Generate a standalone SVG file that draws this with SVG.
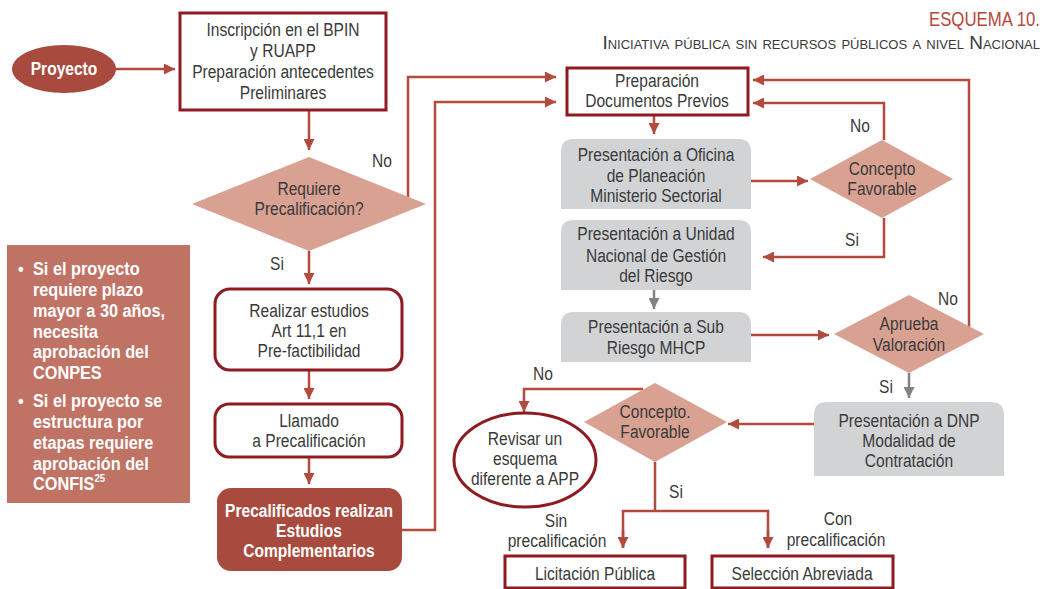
<svg xmlns="http://www.w3.org/2000/svg" width="1045" height="589" viewBox="0 0 1045 589">
  <style>
    text { font-family: "Liberation Sans", Arial, sans-serif; font-size: 19px; fill: #3a3a3a; text-anchor: middle;
           transform-box: fill-box; transform-origin: center; transform: scaleX(0.82); }
    .white { fill: #ffffff; }
    .bold { font-weight: bold; }
    .note { fill: #ffffff; font-weight: bold; font-size: 18.5px; text-anchor: start; transform-origin: left center; transform: scaleX(0.88); }
    .title { fill: #b5483d; font-size: 21px; text-anchor: end; transform-origin: right center; transform: scaleX(0.8); }
    .subtitle { font-size: 19px; text-anchor: end; font-variant: small-caps; fill: #3a3a3a; transform: none; }
    .frame { fill: #ffffff; stroke: #8e1b20; stroke-width: 3; }
    .grey { fill: #d2d3d5; }
    .decision { fill: #d9a192; }
    .dark { fill: #a84b3e; }
    .link { fill: none; stroke: #b24a3e; stroke-width: 2.5; }
    .glink { fill: none; stroke: #808285; stroke-width: 2.5; }
  </style>
  <defs>
    <marker id="arrow" viewBox="0 0 10 10" refX="10" refY="5" markerWidth="11" markerHeight="11" markerUnits="userSpaceOnUse" orient="auto">
      <path d="M0,0 L10,5 L0,10 z" fill="#b24a3e"/>
    </marker>
    <marker id="garrow" viewBox="0 0 10 10" refX="10" refY="5" markerWidth="11" markerHeight="11" markerUnits="userSpaceOnUse" orient="auto">
      <path d="M0,0 L10,5 L0,10 z" fill="#808285"/>
    </marker>
  </defs>

  <!-- heading -->
  <g id="heading">
    <text class="title" x="1040" y="26">ESQUEMA 10.</text>
    <text class="subtitle" x="1040" y="49">Iniciativa pública sin recursos públicos a nivel Nacional</text>
  </g>

  <!-- connectors -->
  <g id="connectors">
    <line class="link" x1="115" y1="69" x2="175" y2="69" marker-end="url(#arrow)"/>
    <line class="link" x1="309" y1="111" x2="309" y2="150" marker-end="url(#arrow)"/>
    <polyline class="link" points="408,197 408,77 556,77" marker-end="url(#arrow)"/>
    <line class="link" x1="309" y1="251" x2="309" y2="284" marker-end="url(#arrow)"/>
    <line class="link" x1="309" y1="371" x2="309" y2="399" marker-end="url(#arrow)"/>
    <line class="link" x1="309" y1="458" x2="309" y2="484" marker-end="url(#arrow)"/>
    <polyline class="link" points="402,530 435,530 435,102 556,102" marker-end="url(#arrow)"/>
    <line class="link" x1="654" y1="116" x2="654" y2="134" marker-end="url(#arrow)"/>
    <line class="link" x1="751" y1="181" x2="808" y2="181" marker-end="url(#arrow)"/>
    <polyline class="link" points="884,140 884,103 753,103" marker-end="url(#arrow)"/>
    <polyline class="link" points="884,218 884,257 763,257" marker-end="url(#arrow)"/>
    <line class="glink" x1="654" y1="290" x2="654" y2="309" marker-end="url(#garrow)"/>
    <line class="link" x1="751" y1="335" x2="829" y2="335" marker-end="url(#arrow)"/>
    <polyline class="link" points="969,327 969,80 753,80" marker-end="url(#arrow)"/>
    <line class="glink" x1="909" y1="373" x2="909" y2="398" marker-end="url(#garrow)"/>
    <line class="link" x1="814" y1="424" x2="728" y2="424" marker-end="url(#arrow)"/>
    <polyline class="link" points="643,389 524,389 524,412" marker-end="url(#arrow)"/>
    <polyline class="link" points="655,462 655,511" />
    <polyline class="link" points="623,548 623,511 768,511 768,548" />
    <line class="link" x1="623" y1="530" x2="623" y2="548" marker-end="url(#arrow)"/>
    <line class="link" x1="768" y1="530" x2="768" y2="548" marker-end="url(#arrow)"/>

    <text x="382" y="167">No</text>
    <text x="277" y="270">Si</text>
    <text x="860" y="132">No</text>
    <text x="852" y="246">Si</text>
    <text x="948" y="305">No</text>
    <text x="886" y="393">Si</text>
    <text x="543" y="380">No</text>
    <text x="676" y="498">Si</text>
    <text x="556" y="527">Sin</text>
    <text x="557" y="547">precalificación</text>
    <text x="838" y="525">Con</text>
    <text x="836" y="546">precalificación</text>
  </g>

  <g id="proyecto">
    <ellipse class="dark" cx="64" cy="69" rx="52" ry="24"/>
    <text class="white bold" x="64" y="75">Proyecto</text>
  </g>

  <g id="inscripcion">
    <rect class="frame" x="180" y="13" width="206" height="97"/>
    <text x="283" y="36">Inscripción en el BPIN</text>
    <text x="283" y="57">y RUAPP</text>
    <text x="283" y="78">Preparación antecedentes</text>
    <text x="283" y="99">Preliminares</text>
  </g>

  <g id="requiere">
    <polygon class="decision" points="192,204 309,157 426,204 309,251"/>
    <text x="309" y="195">Requiere</text>
    <text x="309" y="215">Precalificación?</text>
  </g>

  <g id="nota">
    <rect x="7" y="245" width="183" height="258" fill="#c07365"/>
    <text class="note" x="18" y="275">•</text>
    <text class="note" x="33" y="275">Si el proyecto</text>
    <text class="note" x="33" y="296">requiere plazo</text>
    <text class="note" x="33" y="317">mayor a 30 años,</text>
    <text class="note" x="33" y="338">necesita</text>
    <text class="note" x="33" y="358">aprobación del</text>
    <text class="note" x="33" y="379">CONPES</text>
    <text class="note" x="18" y="407">•</text>
    <text class="note" x="33" y="407">Si el proyecto se</text>
    <text class="note" x="33" y="428">estructura por</text>
    <text class="note" x="33" y="449">etapas requiere</text>
    <text class="note" x="33" y="470">aprobación del</text>
    <text class="note" x="33" y="490">CONFIS<tspan font-size="11" dy="-8">25</tspan></text>
  </g>

  <g id="realizar">
    <rect class="frame" x="215" y="289" width="187" height="81" rx="15"/>
    <text x="309" y="317">Realizar estudios</text>
    <text x="309" y="337">Art 11,1 en</text>
    <text x="309" y="357">Pre-factibilidad</text>
  </g>

  <g id="llamado">
    <rect class="frame" x="215" y="404" width="187" height="53" rx="14"/>
    <text x="309" y="427">Llamado</text>
    <text x="309" y="447">a Precalificación</text>
  </g>

  <g id="precalificados">
    <rect class="dark" x="217" y="488" width="185" height="83" rx="14"/>
    <text class="white bold" x="309" y="517">Precalificados realizan</text>
    <text class="white bold" x="309" y="537">Estudios</text>
    <text class="white bold" x="309" y="557">Complementarios</text>
  </g>

  <g id="preparacion">
    <rect class="frame" x="567" y="68" width="181" height="47"/>
    <text x="657" y="87">Preparación</text>
    <text x="657" y="107">Documentos Previos</text>
  </g>

  <g id="oficina">
    <path class="grey" d="M561,209 V152 Q561,139 574,139 H738 Q751,139 751,152 V209 Z"/>
    <text x="656" y="161">Presentación a Oficina</text>
    <text x="656" y="182">de Planeación</text>
    <text x="656" y="202">Ministerio Sectorial</text>
  </g>

  <g id="concepto-favorable">
    <polygon class="decision" points="810,179 882,140 953,179 882,218"/>
    <text x="882" y="175">Concepto</text>
    <text x="882" y="195">Favorable</text>
  </g>

  <g id="unidad">
    <path class="grey" d="M561,290 V233 Q561,220 574,220 H738 Q751,220 751,233 V290 Z"/>
    <text x="656" y="240">Presentación a Unidad</text>
    <text x="656" y="262">Nacional de Gestión</text>
    <text x="656" y="282">del Riesgo</text>
  </g>

  <g id="sub-riesgo">
    <path class="grey" d="M561,362 V325 Q561,312 574,312 H738 Q751,312 751,325 V362 Z"/>
    <text x="656" y="333">Presentación a Sub</text>
    <text x="656" y="354">Riesgo MHCP</text>
  </g>

  <g id="aprueba">
    <polygon class="decision" points="834,334 909,295 984,334 909,373"/>
    <text x="909" y="330">Aprueba</text>
    <text x="909" y="351">Valoración</text>
  </g>

  <g id="dnp">
    <path class="grey" d="M814,476 V415 Q814,402 827,402 H991 Q1004,402 1004,415 V476 Z"/>
    <text x="909" y="427">Presentación a DNP</text>
    <text x="909" y="447">Modalidad de</text>
    <text x="909" y="467">Contratación</text>
  </g>

  <g id="concepto-final">
    <polygon class="decision" points="584,422 655,383 727,422 655,462"/>
    <text x="655" y="418">Concepto.</text>
    <text x="655" y="438">Favorable</text>
  </g>

  <g id="revisar">
    <ellipse class="frame" cx="525" cy="460" rx="71" ry="47"/>
    <text x="525" y="445">Revisar un</text>
    <text x="525" y="465">esquema</text>
    <text x="525" y="485">diferente a APP</text>
  </g>

  <g id="licitacion">
    <rect class="frame" x="505" y="556" width="180" height="32"/>
    <text x="595" y="580">Licitación Pública</text>
  </g>

  <g id="seleccion">
    <rect class="frame" x="712" y="556" width="181" height="32"/>
    <text x="802" y="580">Selección Abreviada</text>
  </g>
</svg>
